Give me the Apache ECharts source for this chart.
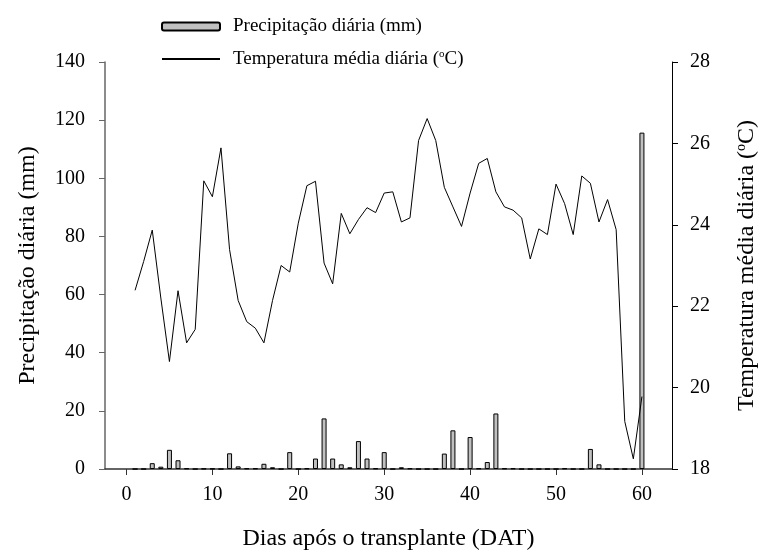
<!DOCTYPE html>
<html>
<head>
<meta charset="utf-8">
<script src="https://cdn.jsdelivr.net/npm/echarts@6/dist/echarts.min.js"></script>
<style>html,body{margin:0;padding:0;background:#fff}#c{width:761px;height:559px}</style>
</head>
<body>
<div id="c"></div>
<script>
// Days after transplant
const days = [];
for (let d = 1; d <= 60; d++) days.push(d);

// Daily precipitation (mm), indexed by day 1..60
const precip = [
  0, 0, 2.0, 0.8, 6.6, 3.0, 0.2, 0, 0.1, 0.1,
  0, 5.4, 0.9, 0.2, 0.2, 1.8, 0.6, 0, 5.8, 0,
  0.2, 3.6, 17.4, 3.6, 1.6, 0.6, 9.6, 3.6, 0.2, 5.8,
  0, 0.6, 0.2, 0, 0, 0, 5.3, 13.3, 0, 11.0,
  0.2, 2.4, 19.1, 0.2, 0.2, 0, 0, 0, 0, 0,
  0.2, 0, 0, 6.9, 1.6, 0, 0, 0, 0, 115.7
];

// Daily mean temperature (°C), days 1..60
const temp = [
  22.39, 23.1, 23.87, 22.2, 20.64, 22.38, 21.10, 21.43, 25.08, 24.69,
  25.89, 23.39, 22.14, 21.62, 21.46, 21.10, 22.14, 23.00, 22.84, 24.04,
  24.96, 25.07, 23.06, 22.55, 24.28, 23.78, 24.13, 24.42, 24.30, 24.78,
  24.81, 24.07, 24.17, 26.07, 26.61, 26.07, 24.92, 24.44, 23.96, 24.78,
  25.51, 25.63, 24.81, 24.44, 24.36, 24.17, 23.16, 23.90, 23.76, 25.00,
  24.52, 23.76, 25.20, 25.02, 24.07, 24.62, 23.88, 19.17, 18.25, 19.78
];

const xTicks = [0, 10, 20, 30, 40, 50, 60];
const precipName = 'Precipitação diária (mm)';
const tempName = 'Temperatura média diária';
const xName = 'Dias após o transplante (DAT)';

const font = 'Liberation Serif';
const chart = echarts.init(document.getElementById('c'));
function richSet(size) {
  return {
    a: { fontFamily: font, fontSize: size, color: '#000' },
    sup: { fontFamily: font, fontSize: Math.round(size * 0.6), color: '#000', verticalAlign: 'top', padding: [0, 0, Math.round(size * 0.45), 0] }
  };
}
const legendBase = {
  orient: 'vertical',
  left: 156,
  itemWidth: 58,
  itemHeight: 8,
  textStyle: { fontFamily: font, fontSize: 19, color: '#000', padding: [0, 0, 0, 8], rich: richSet(19) },
  formatter: function (n) {
    if (n === tempName) return '{a|' + tempName + ' (}{sup|o}{a|C)}';
    return '{a|' + n + '}';
  }
};
const nameSize = 24;
chart.setOption({
  animation: false,
  backgroundColor: '#fff',
  textStyle: { fontFamily: font },
  legend: [
    Object.assign({}, legendBase, { top: 12, data: [precipName] }),
    Object.assign({}, legendBase, { top: 44, data: [{ name: tempName, itemStyle: { opacity: 0 } }] })
  ],
  grid: { left: 105, right: 89, top: 62, bottom: 90, containLabel: false, outerBoundsMode: 'none' },
  xAxis: {
    type: 'value',
    min: -2.5,
    max: 63.5,
    name: xName,
    nameLocation: 'middle',
    nameGap: 58,
    nameTextStyle: { fontFamily: font, fontSize: nameSize, color: '#000' },
    axisLine: { onZero: false, lineStyle: { color: '#333', width: 1.5 } },
    axisTick: { show: true, customValues: xTicks, length: 6, lineStyle: { color: '#333' } },
    axisLabel: { customValues: xTicks, margin: 16, fontSize: 20, color: '#000', fontFamily: font },
    splitLine: { show: false }
  },
  yAxis: [
    {
      type: 'value',
      min: 0, max: 140, interval: 20,
      name: precipName,
      nameLocation: 'middle',
      nameGap: 65,
      nameTextStyle: { fontFamily: font, fontSize: nameSize, color: '#000' },
      axisLine: { show: true, onZero: false, lineStyle: { color: '#666', width: 1.5 } },
      axisTick: { show: true, length: 6, lineStyle: { color: '#666' } },
      axisLabel: { margin: 20, fontSize: 20, color: '#000', fontFamily: font },
      splitLine: { show: false }
    },
    {
      type: 'value',
      min: 18, max: 28, interval: 2,
      position: 'right',
      name: '{a|' + tempName + ' (}{sup|o}{a|C)}',
      nameLocation: 'middle',
      nameGap: 62,
      nameRotate: 90,
      nameTextStyle: { fontFamily: font, fontSize: nameSize, color: '#000', rich: richSet(nameSize) },
      axisLine: { show: true, onZero: false, lineStyle: { color: '#000', width: 1 } },
      axisTick: { show: true, length: 6, lineStyle: { color: '#000' } },
      axisLabel: { margin: 18, fontSize: 20, color: '#000', fontFamily: font },
      splitLine: { show: false }
    }
  ],
  series: [
    {
      name: precipName,
      type: 'bar',
      yAxisIndex: 0,
      barWidth: 5,
      data: days.map((d, i) => [d, precip[i]]),
      itemStyle: { color: '#c0c0c0', borderColor: '#000', borderWidth: 1 }
    },
    {
      name: tempName,
      type: 'line',
      yAxisIndex: 1,
      symbol: 'none',
      data: days.map((d, i) => [d, temp[i]]),
      lineStyle: { color: '#000', width: 1 },
      itemStyle: { color: '#000' },
      z: 3
    }
  ]
});
</script>
</body>
</html>
